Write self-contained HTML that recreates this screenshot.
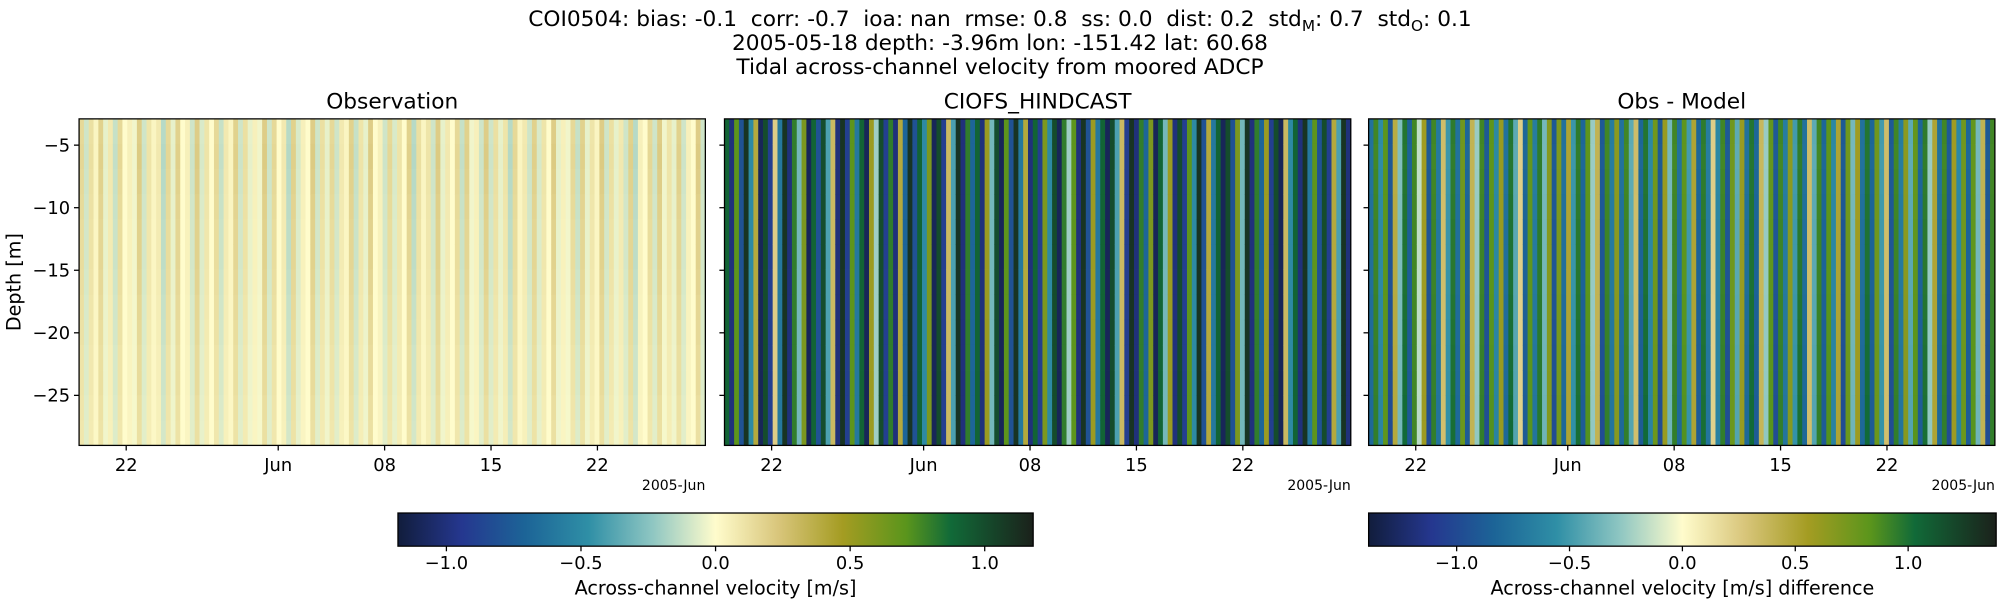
<!DOCTYPE html>
<html><head><meta charset="utf-8"><style>
html,body{margin:0;padding:0;background:#fff}
svg{display:block}
text{font-family:"DejaVu Sans","Liberation Sans",sans-serif;fill:#000;white-space:pre}
</style></head><body>
<svg id="fig" width="2000" height="600" viewBox="0 0 1568 470" xmlns="http://www.w3.org/2000/svg">
<defs>
<linearGradient id="delta" x1="0" x2="1" y1="0" y2="0">
<stop offset="0" stop-color="#111d3c"/><stop offset="0.1" stop-color="#25378f"/><stop offset="0.2" stop-color="#1c6497"/>
<stop offset="0.3" stop-color="#2f8fa6"/><stop offset="0.4" stop-color="#8ec6c2"/><stop offset="0.5" stop-color="#fffccc"/>
<stop offset="0.6" stop-color="#d8c57a"/><stop offset="0.7" stop-color="#a49c22"/><stop offset="0.8" stop-color="#5a951c"/>
<stop offset="0.87" stop-color="#116a38"/><stop offset="1" stop-color="#1b211b"/>
</linearGradient>
</defs>
<g text-anchor="middle" font-size="17">
<text x="784" y="20">COI0504: bias: -0.1  corr: -0.7  ioa: nan  rmse: 0.8  ss: 0.0  dist: 0.2  std<tspan font-size="12" dy="4">M</tspan><tspan dy="-4">: 0.7  std</tspan><tspan font-size="12" dy="4">O</tspan><tspan dy="-4">: 0.1</tspan></text>
<text x="784" y="39">2005-05-18 depth: -3.96m lon: -151.42 lat: 60.68</text>
<text x="784" y="58">Tidal across-channel velocity from moored ADCP</text>
</g>
<g id="panels"></g>
</svg>
<script>
const modelVals=[0.9,-1.0,0.7,-0.8,1.1,-0.5,0.4,-1.1,1.0,-0.9,0.2,-0.6,1.1,-1.0,0.8,-0.3,0.6,-1.1,0.9,-0.8,1.0,-0.4,0.3,-1.0,1.1,-0.9,0.7,-0.6,0.9,-1.1,0.5,-0.2,1.0,-0.9,0.8,-1.0,0.4,-0.7,1.1,-0.8,0.9,-0.5,0.6,-1.1,1.0,-0.9,0.3,-0.4,1.1,-1.0,0.8,-0.7,0.9,-1.0,0.5,-0.3,1.0,-1.1,0.7,-0.8,1.1,-0.6,0.4,-1.0,0.9,-0.9,0.6,-0.5,1.0,-1.1,0.8,-0.2,0.7,-1.0,1.1,-0.8,0.5,-0.6,0.9,-1.1,1.0,-0.4,0.3,-0.9,1.1,-1.0,0.8,-0.7,0.6,-1.1,0.9,-0.3,0.5,-1.0,1.0,-0.9,0.7,-0.5,1.1,-0.8,0.4,-0.6,0.9,-1.1,1.0,-0.8,0.6,-0.3,1.1,-1.0,0.8,-0.7,0.5,-0.9,1.0,-1.1,0.3,-0.5,0.9,-1.0,1.1,-0.6,0.7,-0.8,1.0,-0.9,0.4,-0.4,1.1,-1.0];
const obsVals=[0.15,-0.1,0.12,0.03,0.18,-0.05,0.08,-0.12,0.15,0.0,0.05,-0.03,0.2,-0.1,0.1,0.03,0.08,-0.15,0.15,-0.05,0.18,0.0,0.05,-0.1,0.2,-0.08,0.1,0.0,0.15,-0.12,0.08,0.03,0.18,-0.1,0.12,-0.05,0.05,-0.03,0.2,-0.1,0.15,0.0,0.08,-0.15,0.18,-0.08,0.05,0.0,0.2,-0.1,0.12,-0.05,0.15,-0.1,0.08,0.03,0.18,-0.12,0.1,-0.05,0.2,0.0,0.05,-0.1,0.15,-0.08,0.1,0.0,0.18,-0.15,0.12,0.03,0.1,-0.1,0.2,-0.05,0.08,0.0,0.15,-0.12,0.18,-0.03,0.05,-0.1,0.2,-0.1,0.12,-0.05,0.1,-0.15,0.15,0.03,0.08,-0.1,0.18,-0.08,0.1,0.0,0.2,-0.05,0.05,-0.03,0.15,-0.12,0.18,-0.05,0.1,0.03,0.2,-0.1,0.12,-0.05,0.08,-0.1,0.18,-0.15,0.05,0.0,0.15,-0.1,0.2,-0.03,0.1,-0.05,0.18,-0.1,0.05,0.0,0.2,-0.1];
const depthFactor=[1.0,1.05,1.0,0.95,0.9,0.9,0.85,0.8,0.75,0.7,0.7,0.65,0.6];
const yTicks=[-5,-10,-15,-20,-25];
const xTickDays=[3.1,13.1,20.1,27.1,34.1];
const xTickLabels=["22","Jun","08","15","22"];
const cbTicks=[-1.0,-0.5,0.0,0.5,1.0];
const cbTickLabels=["\u22121.0","\u22120.5","0.0","0.5","1.0"];

const stops=[[0,"#111d3c"],[0.1,"#25378f"],[0.2,"#1c6497"],[0.3,"#2f8fa6"],[0.4,"#8ec6c2"],[0.5,"#fffccc"],[0.6,"#d8c57a"],[0.7,"#a49c22"],[0.8,"#5a951c"],[0.87,"#116a38"],[1,"#1b211b"]];
function hex(h){return [1,3,5].map(i=>parseInt(h.substr(i,2),16));}
function cmap(t){t=Math.max(0,Math.min(1,t));for(let i=1;i<stops.length;i++){if(t<=stops[i][0]){const a=stops[i-1],b=stops[i];const f=(t-a[0])/(b[0]-a[0]);const ca=hex(a[1]),cb=hex(b[1]);return "rgb("+ca.map((v,k)=>Math.round(v+(cb[k]-v)*f)).join(",")+")";}}return stops[stops.length-1][1];}
const NS="http://www.w3.org/2000/svg";
const root=document.getElementById("panels");
function el(tag,attrs,parent,txt){const e=document.createElementNS(NS,tag);for(const k in attrs)e.setAttribute(k,attrs[k]);if(txt!==undefined)e.textContent=txt;(parent||root).appendChild(e);return e;}

const yTop=93,yBot=349,dTop=-2.9,dBot=-29.0,totalDays=41.2;
function yScale(d){return yTop+(d-dTop)/(dBot-dTop)*(yBot-yTop);}
const panels=[{x:62,title:"Observation",name:"observation-panel",vmax:1.18,fn:(i,j)=>obsVals[i]*depthFactor[j]},
{x:568,title:"CIOFS_HINDCAST",name:"model-panel",vmax:1.18,fn:(i,j)=>modelVals[i]},
{x:1073,title:"Obs - Model",name:"difference-panel",vmax:1.39,fn:(i,j)=>obsVals[i]*depthFactor[j]-modelVals[i]}];
const W=491;
panels.forEach((p,pi)=>{
  const g=el("g",{});
  
  
  const n=Math.min(obsVals.length,modelVals.length);
  const cw=W/n, dh=(yBot-yTop)/depthFactor.length;
  for(let i=0;i<n;i++)for(let j=0;j<depthFactor.length;j++){
    const v=p.fn(i,j);
    const r=el("rect",{x:(p.x+i*cw).toFixed(2),y:(yTop+j*dh).toFixed(2),width:(cw+0.3).toFixed(2),height:(dh+0.3).toFixed(2),fill:cmap(0.5+v/(2*p.vmax))},g);
    
    
  }
  const f=el("rect",{x:p.x,y:yTop,width:W,height:yBot-yTop,fill:"none",stroke:"#000","stroke-width":1},g);
  
  
  const t=el("text",{x:p.x+W/2,y:85,"text-anchor":"middle","font-size":17},g,p.title);
  
  
  yTicks.forEach(d=>{const y=yScale(d);el("line",{x1:p.x-4,x2:p.x,y1:y,y2:y,stroke:"#000"},g);
    if(pi===0){const l=el("text",{x:p.x-7,y:y+5,"text-anchor":"end","font-size":14},g,"\u2212"+Math.abs(d));
      
      }});
  xTickDays.forEach((d,k)=>{const x=p.x+d/totalDays*W;el("line",{x1:x,x2:x,y1:yBot,y2:yBot+4,stroke:"#000"},g);
    const l=el("text",{x:x,y:yBot+20,"text-anchor":"middle","font-size":14},g,xTickLabels[k]);
    
    });
  const o=el("text",{x:p.x+W,y:384,"text-anchor":"end","font-size":11},g,"2005-Jun");
  
  
});
const yl=el("text",{x:0,y:0,"text-anchor":"middle","font-size":15,transform:"translate(16,221) rotate(-90)"},root,"Depth [m]");



[{x:312,w:498,vmax:1.18,label:"Across-channel velocity [m/s]",name:"colorbar-velocity"},
 {x:1073,w:492,vmax:1.39,label:"Across-channel velocity [m/s] difference",name:"colorbar-difference"}].forEach(c=>{
  const g=el("g",{});
  
  
  el("rect",{x:c.x,y:402,width:c.w,height:26,fill:"url(#delta)",stroke:"#000","stroke-width":1},g);
  cbTicks.forEach((v,k)=>{const x=c.x+(v+c.vmax)/(2*c.vmax)*c.w;
    el("line",{x1:x,x2:x,y1:428,y2:432,stroke:"#000"},g);
    const l=el("text",{x:x,y:446,"text-anchor":"middle","font-size":14},g,cbTickLabels[k]);
    
    });
  const l=el("text",{x:c.x+c.w/2,y:466,"text-anchor":"middle","font-size":15},g,c.label);
  
  
});
</script>
</body></html>
